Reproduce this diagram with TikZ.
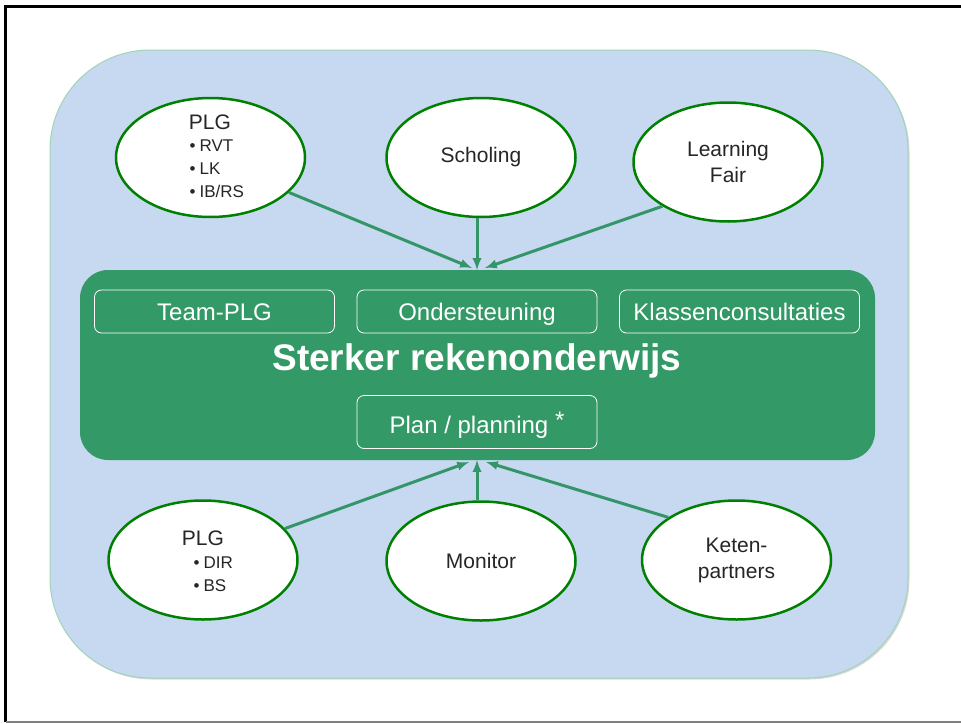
\documentclass[tikz,border=0pt]{standalone}
\usepackage{fontspec}
\setmainfont{Liberation Sans}
\usetikzlibrary{shapes.geometric,shadows}
\definecolor{vakblauw}{RGB}{198,217,241}
\definecolor{vakrand}{RGB}{160,212,184}
\definecolor{kerngroen}{RGB}{51,153,102}
\definecolor{ovaalgroen}{RGB}{0,128,0}
\definecolor{pijlgroen}{RGB}{52,150,104}
\definecolor{tekstgrijs}{RGB}{38,38,38}
\begin{document}
\begin{tikzpicture}[x=1pt, y=-1pt,
		ovaal/.style={ellipse, draw=ovaalgroen, line width=2.5pt, fill=white, minimum width=189pt, minimum height=119pt, inner sep=0pt, text=tekstgrijs, align=center, font=\fontsize{21}{26}\selectfont},
		deelvak/.style={draw=white, rounded corners=7pt, line width=.8pt, minimum width=240pt, minimum height=43pt, inner sep=0pt, text height=17pt, text depth=0pt, text=white, font=\fontsize{24}{28}\selectfont},
		pijl/.style={-latex, draw=pijlgroen, line width=3pt}]
			\useasboundingbox (0,0) rectangle (961,723);
			\draw[line width=3pt] (962,6) -- (5.5,6) -- (5.5,722);
			\draw[line width=1.5pt, gray] (5.5,722) -- (962,722);
			\node[draw=vakrand, fill=vakblauw, line width=1pt, rounded corners=100pt, minimum width=858pt, minimum height=628pt, drop shadow={shadow xshift=1.5pt, shadow yshift=-1.5pt, opacity=.3}] (vak) at (479,364) {};
			\node[fill=kerngroen, rounded corners=28pt, minimum width=795pt, minimum height=190pt] (kern) at (477.5,365) {};
			\foreach \naam/\x/\tekst in {teamplg/214.5/Team-PLG, ondersteuning/477/Ondersteuning, klassen/739.5/Klassenconsultaties}
				{
					\node[deelvak] (\naam) at (\x,311.5) {\tekst};
				}
			\node[deelvak, minimum height=53pt, text height=23pt] (plan) at (477,422) {Plan / planning \raisebox{5pt}{*}};
			\node[text=white, font=\fontsize{37}{40}\selectfont\bfseries] (titel) at (477,361) {Sterker rekenonderwijs};
			\foreach \naam/\x/\y/\tekst in {scholing/481/157.5/Scholing, fair/728/162/{Learning\\Fair}, monitor/481/561/Monitor, keten/736.5/560/{Keten-\\partners}}
				{
					\node[ovaal] (\naam) at (\x,\y) {\tekst};
				}
			\node[ovaal] (plgboven) at (210.5,157.5) {};
			\node[ovaal] (plgonder) at (203,560) {};
			\node[text=tekstgrijs, font=\fontsize{21}{26}\selectfont] (plgbovenkop) at (210,122) {PLG};
			\node[anchor=west, inner sep=0pt, align=left, text=tekstgrijs, font=\fontsize{17}{23}\selectfont] (plgbovenlijst) at (189.5,169) {\textbullet\kern4pt RVT\\\textbullet\kern4pt LK\\\textbullet\kern4pt IB/RS};
			\node[text=tekstgrijs, font=\fontsize{21}{26}\selectfont] (plgonderkop) at (203,538) {PLG};
			\node[anchor=west, inner sep=0pt, align=left, text=tekstgrijs, font=\fontsize{17}{23}\selectfont] (plgonderlijst) at (193.5,574.5) {\textbullet\kern4pt DIR\\\textbullet\kern4pt BS};
			\coordinate (inboven1) at (472,268);
			\coordinate (inboven2) at (477,270);
			\coordinate (inboven3) at (485,268);
			\coordinate (inonder1) at (469,462);
			\coordinate (inonder2) at (477,460);
			\coordinate (inonder3) at (486,462);
			\draw[pijl] (plgboven.-24) -- (inboven1);
			\draw[pijl] (scholing.south -| inboven2) -- (inboven2);
			\draw[pijl] (fair.214) -- (inboven3);
			\draw[pijl] (plgonder.21) -- (inonder1);
			\draw[pijl] (monitor.north -| inonder2) -- (inonder2);
			\draw[pijl] (keten.148) -- (inonder3);
		\end{tikzpicture}
\end{document}
